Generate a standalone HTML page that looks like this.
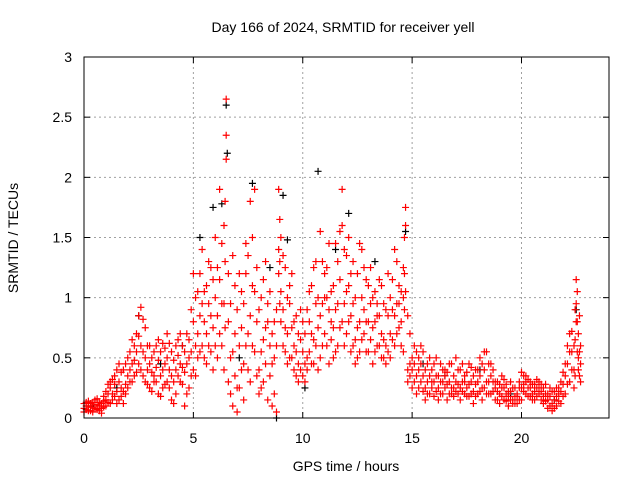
<!DOCTYPE html>
<html><head><meta charset="utf-8"><style>
body{margin:0;background:#fff}
svg{display:block;font-family:"Liberation Sans",sans-serif}
</style></head><body>
<svg id="chart" width="640" height="480">
<text x="343" y="32" font-size="14" text-anchor="middle">Day 166 of 2024, SRMTID for receiver yell</text>
<text x="346" y="471" font-size="14" text-anchor="middle">GPS time / hours</text>
<text x="18" y="238" font-size="14" text-anchor="middle" transform="rotate(-90 18 238)">SRMTID / TECUs</text>
<g id="grid"></g>
<g id="ticks"></g>
<g id="black"></g>
<g id="red"></g>
<rect x="84" y="57" width="525" height="361" fill="none" stroke="#000" stroke-width="1"/>
</svg>
<script>
const xTicks=[0,5,10,15,20];
const yTicks=[0,0.5,1,1.5,2,2.5,3];
const yTickLabels=["0","0.5","1","1.5","2","2.5","3"];
const redData=[
[0.0,.12,.08,.05],[0.2,.10,.06,.14],[0.4,.09,.13,.05],[0.6,.11,.07,.16],[0.8,.08,.12,.04],
[1.0,.15,.10,.22],[1.2,.25,.12,.30],[1.4,.18,.35,.28],[1.6,.30,.15,.45],[1.8,.22,.40,.12],
[2.0,.35,.50,.25],[2.2,.45,.30,.65],[2.4,.55,.38,.70],[2.6,.92,.40,.60],[2.8,.75,.30,.50],
[3.0,.45,.25,.60],[3.2,.55,.35,.30],[3.4,.48,.20,.65],[3.6,.40,.62,.25],[3.8,.50,.30,.70],
[4.0,.35,.55,.15],[4.2,.60,.40,.20],[4.4,.45,.70,.30],[4.6,.38,.55,.10],[4.8,.25,.65,.50],
[5.0,.80,.40,1.2],[5.2,.70,1.05,.50],[5.4,.95,1.40,.60],[5.6,1.10,.70,.45],[5.8,.85,1.25,.55],
[6.0,1.0,.60,1.5],[6.2,1.9,.70,1.15],[6.4,1.6,.40,.95],[6.5,2.65,2.35,2.15],[6.6,1.2,.30,.80],
[6.8,.55,1.35,.10],[7.0,.25,.90,.05],[7.2,.75,1.05,.40],[7.4,1.20,.60,1.45],[7.6,.85,1.80,.30],
[7.8,1.9,.55,1.05],[8.0,.40,.90,.20],[8.2,1.15,.65,.30],[8.4,.80,.15,.95],[8.6,.45,.70,.10],
[8.8,.90,.05,.60],[8.9,1.90,1.40,1.2],[9.0,1.50,1.05,.80],[9.2,1.25,.75,.55],[9.4,.95,.50,1.10],
[9.6,.60,.40,.80],[9.8,.45,.70,.30],[10.0,.55,.35,.80],[10.2,.90,.50,.40],[10.4,1.10,.45,.70],
[10.6,1.30,.60,.95],[10.8,1.55,.85,.50],[11.0,1.2,.70,1.0],[11.2,.90,.45,1.45],[11.4,1.10,.75,.50],
[11.6,1.30,.60,.95],[11.8,1.90,1.60,.80],[12.0,1.35,.70,1.05],[12.2,.85,.55,1.20],[12.4,1.00,.65,.45],
[12.6,1.45,.80,.55],[12.8,.90,.70,1.25],[13.0,1.10,.55,.80],[13.2,.75,.45,1.00],[13.4,.95,.60,.85],
[13.6,.70,.50,1.10],[13.8,.60,.90,.45],[14.0,1.0,.70,.50],[14.2,1.40,.85,.60],[14.4,1.10,.75,.95],
[14.6,1.25,.55,1.00],[14.7,1.75,1.60,1.05],[14.8,.85,.40,.30],[15.0,.50,.25,.40],[15.2,.35,.55,.20],
[15.4,.45,.30,.60],[15.6,.25,.40,.15],[15.8,.35,.20,.50],[16.0,.30,.45,.18],[16.2,.25,.35,.15],
[16.4,.40,.20,.30],[16.6,.28,.15,.38],[16.8,.45,.25,.20],[17.0,.30,.50,.22],[17.2,.25,.40,.15],
[17.4,.35,.20,.30],[17.6,.28,.45,.18],[17.8,.22,.35,.12],[18.0,.30,.40,.20],[18.2,.25,.45,.15],
[18.4,.55,.30,.20],[18.6,.35,.20,.45],[18.8,.25,.15,.30],[19.0,.20,.28,.12],[19.2,.25,.15,.32],
[19.4,.18,.22,.10],[19.6,.15,.25,.12],[19.8,.20,.12,.18],[20.0,.38,.25,.15],[20.2,.30,.20,.35],
[20.4,.25,.18,.30],[20.6,.22,.28,.15],[20.8,.20,.30,.25],[21.0,.25,.18,.12],[21.2,.15,.08,.20],
[21.4,.12,.22,.06],[21.6,.18,.10,.25],[21.8,.22,.12,.30],[22.0,.35,.20,.45],[22.2,.55,.30,.70],
[22.4,.40,.60,.25],[22.5,1.15,.95,.80],[22.6,.70,.50,.40],[22.7,.30,.45,.60]
];
const redData2=[
[0.1,.10,.07,.13],[0.3,.12,.09,.06],[0.5,.08,.15,.11],[0.7,.06,.10,.13],[0.9,.14,.09,.18],
[1.1,.20,.13,.28],[1.3,.32,.20,.15],[1.5,.22,.40,.12],[1.7,.38,.25,.18],[1.9,.45,.28,.20],
[2.1,.40,.55,.30],[2.3,.60,.35,.48],[2.5,.68,.45,.85],[2.7,.82,.55,.35],[2.9,.60,.40,.28],
[3.1,.50,.38,.22],[3.3,.42,.60,.30],[3.5,.55,.35,.18],[3.7,.45,.28,.58],[3.9,.62,.40,.25],
[4.1,.48,.30,.12],[4.3,.52,.65,.35],[4.5,.42,.28,.60],[4.7,.70,.45,.20],[4.9,.55,.90,.35],
[5.1,1.00,.60,.35],[5.3,1.20,.85,.55],[5.5,1.05,.50,.80],[5.7,.95,1.30,.60],[5.9,1.15,.75,.40],
[6.1,1.25,.85,.50],[6.3,1.45,.95,.60],[6.45,1.80,1.30,.75],[6.7,.95,.50,.20],[6.9,.70,.35,1.10],
[7.1,.60,1.20,.25],[7.3,.95,.45,.15],[7.5,1.35,.70,.40],[7.7,1.10,.60,1.50],[7.9,.80,1.25,.35],
[8.1,1.00,.55,.25],[8.3,.75,1.30,.45],[8.5,.60,.35,1.05],[8.7,.50,.80,.20],[8.95,1.65,1.30,.95],
[9.1,1.35,.90,.60],[9.3,1.00,.70,.45],[9.5,.75,1.20,.50],[9.7,.55,.85,.35],[9.9,.65,.40,.90],
[10.1,.70,.45,.30],[10.3,.80,1.05,.55],[10.5,1.25,.65,.45],[10.7,1.00,.75,.40],[10.9,1.30,.95,.60],
[11.1,1.00,.60,1.25],[11.3,1.05,.65,.80],[11.5,1.45,.90,.55],[11.7,1.15,.75,1.55],[11.9,1.40,.95,.60],
[12.1,1.10,.80,1.50],[12.3,.95,.60,1.30],[12.5,1.20,.75,.50],[12.7,1.00,.65,1.40],[12.9,1.15,.80,.55],
[13.1,.95,.65,1.25],[13.3,1.05,.55,.80],[13.5,.85,1.15,.60],[13.7,.95,.65,.50],[13.9,.85,1.20,.55],
[14.1,1.15,.65,.90],[14.3,1.30,.95,.70],[14.5,1.05,.80,.60],[14.65,1.50,1.20,.90],[14.9,.70,.45,.35],
[15.1,.45,.30,.60],[15.3,.40,.25,.50],[15.5,.35,.55,.22],[15.7,.30,.45,.20],[15.9,.40,.25,.30],
[16.1,.35,.22,.50],[16.3,.30,.45,.20],[16.5,.35,.25,.40],[16.7,.30,.20,.45],[16.9,.35,.25,.18],
[17.1,.40,.28,.20],[17.3,.30,.45,.22],[17.5,.38,.25,.18],[17.7,.30,.42,.20],[17.9,.28,.40,.18],
[18.1,.35,.50,.22],[18.3,.40,.25,.55],[18.5,.45,.30,.20],[18.7,.30,.22,.40],[18.9,.22,.30,.15],
[19.1,.25,.18,.35],[19.3,.20,.28,.14],[19.5,.22,.15,.30],[19.7,.18,.25,.12],[19.9,.25,.15,.30],
[20.1,.35,.22,.28],[20.3,.25,.32,.18],[20.5,.28,.20,.15],[20.7,.25,.18,.32],[20.9,.22,.28,.15],
[21.1,.20,.14,.28],[21.3,.18,.10,.25],[21.5,.15,.22,.08],[21.7,.25,.14,.20],[21.9,.28,.18,.38],
[22.1,.45,.28,.60],[22.3,.72,.40,.55],[22.45,.90,.65,.35],[22.55,1.05,.80,.55],[22.65,.85,.55,.35]
];
const blackData=[
[0.3,.10],[1.5,.25],[2.5,.85],[3.5,.45],[4.5,.60],[5.3,1.50],[5.9,1.75],[6.3,1.78],[6.5,2.60],[6.55,2.20],
[7.1,.50],[7.7,1.95],[8.5,1.25],[9.1,1.85],[9.3,1.48],[10.7,2.05],[11.5,1.40],[12.1,1.70],[13.3,1.30],
[14.7,1.55],[15.5,.45],[16.5,.35],[18.1,.40],[19.5,.20],[21.5,.15],[22.5,.90],[10.1,.25],[8.8,.00]
];
const X=t=>84+t*(525/24);
const Y=v=>418-v*(361/3);
const NS="http://www.w3.org/2000/svg";
const grid=document.getElementById('grid'),ticks=document.getElementById('ticks');
function line(p,x1,y1,x2,y2,st,dash){const l=document.createElementNS(NS,'line');l.setAttribute('x1',x1);l.setAttribute('y1',y1);l.setAttribute('x2',x2);l.setAttribute('y2',y2);l.setAttribute('stroke',st);if(dash)l.setAttribute('stroke-dasharray',dash);p.appendChild(l);return l;}
function text(p,x,y,s,anchor){const t=document.createElementNS(NS,'text');t.setAttribute('x',x);t.setAttribute('y',y);t.setAttribute('font-size','14');t.setAttribute('text-anchor',anchor);t.textContent=s;p.appendChild(t);return t;}
xTicks.forEach(t=>{const x=X(t);
 if(t>0){const g=line(grid,x,57,x,418,'#a0a0a0','2,3');
 
 }
 line(ticks,x,418,x,412,'#000');line(ticks,x,57,x,63,'#000');
 const lb=text(ticks,x,443,String(t),'middle');
 
 
});
yTicks.forEach((v,i)=>{const y=Y(v);
 if(v>0&&v<3){const g=line(grid,84,y,609,y,'#a0a0a0','2,3');
 
 }
 line(ticks,84,y,90,y,'#000');line(ticks,609,y,603,y,'#000');
 const lb=text(ticks,72,y+5,yTickLabels[i],'end');
 
 
});
function plus(p,t,v,col,name){const x=X(t),y=Y(v);const pa=document.createElementNS(NS,'path');
 pa.setAttribute('d',`M${x-3.5} ${y}H${x+3.5}M${x} ${y-3.5}V${y+3.5}`);pa.setAttribute('stroke',col);pa.setAttribute('stroke-width','1.2');
 
 
 p.appendChild(pa);}
const bg=document.getElementById('black');
blackData.forEach(d=>plus(bg,d[0],d[1],'#000','black-point'));
const rg=document.getElementById('red');
redData.forEach(d=>{for(let i=1;i<d.length;i++)plus(rg,d[0],d[i],'#ff0000','red-point');});
redData2.forEach(d=>{for(let i=1;i<d.length;i++)plus(rg,d[0],d[i],'#ff0000','red-point');});
</script>
</body></html>
